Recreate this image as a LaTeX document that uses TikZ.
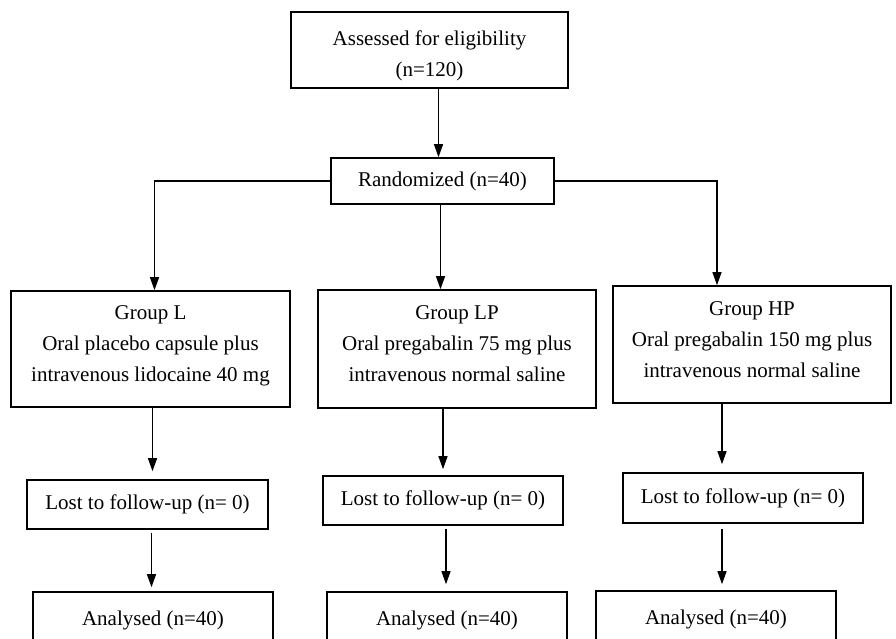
\documentclass[tikz,border=0pt]{standalone}
\usepackage{fontspec}
\setmainfont{Liberation Serif}
\usetikzlibrary{arrows.meta}

\tikzset{
    flowbox/.style={
        draw,
        line width=1.6pt,
        align=center,
        inner sep=2pt,
        font=\fontsize{21}{31}\selectfont
    },
    flowarrow/.style={
        line width=1.2pt,
        -{Stealth[length=13pt,width=9pt,inset=0pt]}
    }
}

\begin{document}
\begin{tikzpicture}[
    x=1pt,
    y=-1pt
]

\useasboundingbox (0,0) rectangle (896,638);
\clip (0,0) rectangle (896,638);

%------------------------------------------------------------
% Top boxes
%------------------------------------------------------------

\node[flowbox,minimum width=277pt,minimum height=76pt]
(assess) at (429.5,50)
{\rule{0pt}{26pt}Assessed for eligibility\\(n=120)};

\node[flowbox,minimum width=223pt,minimum height=46pt]
(rand) at (442.5,181)
{Randomized (n=40)};

%------------------------------------------------------------
% Groups
%------------------------------------------------------------

\node[flowbox,minimum width=279pt,minimum height=116pt]
(gL) at (150.5,349)
{Group L\\Oral placebo capsule plus\\intravenous lidocaine 40 mg\rule[-10pt]{0pt}{0pt}};

\node[flowbox,minimum width=278pt,minimum height=118pt]
(gLP) at (457,349)
{Group LP\\Oral pregabalin 75 mg plus\\intravenous normal saline\rule[-10pt]{0pt}{0pt}};

\node[flowbox,minimum width=278pt,minimum height=117pt]
(gHP) at (752,344.5)
{Group HP\\Oral pregabalin 150 mg plus\\intravenous normal saline\rule[-10pt]{0pt}{0pt}};

%------------------------------------------------------------
% Follow-up
%------------------------------------------------------------

\node[flowbox,minimum width=241pt,minimum height=49pt]
(lostL) at (147.5,504.5)
{Lost to follow-up (n= 0)};

\node[flowbox,minimum width=240pt,minimum height=49pt]
(lostLP) at (443,500.5)
{Lost to follow-up (n= 0)};

\node[flowbox,minimum width=240pt,minimum height=50pt]
(lostHP) at (743,498)
{Lost to follow-up (n= 0)};

%------------------------------------------------------------
% Analysis
%------------------------------------------------------------

\node[flowbox,minimum width=240pt,minimum height=56pt]
(anL) at (153,620)
{Analysed (n=40)};

\node[flowbox,minimum width=240pt,minimum height=56pt]
(anLP) at (447,620)
{Analysed (n=40)};

\node[flowbox,minimum width=240pt,minimum height=56pt]
(anHP) at (716,619)
{Analysed (n=40)};

%------------------------------------------------------------
% Arrows
%------------------------------------------------------------

\draw[flowarrow]
([xshift=-4pt]assess.south -| rand.north)--([xshift=-4pt]rand.north);

% randomisation into the three groups
\draw[flowarrow]
(rand.west) -| ([xshift=4pt]gL.north);

\draw[flowarrow]
([xshift=-2pt]rand.south) -- ([xshift=-2pt]rand.south |- gLP.north);

\draw[flowarrow]
(rand.east) -| ([xshift=-35pt]gHP.north);

% groups to follow-up
\draw[flowarrow,shorten >=8pt]
([xshift=2pt]gL.south) -- ([xshift=2pt]gL.south |- lostL.north);

\draw[flowarrow,shorten >=6pt]
(gLP.south -| lostLP.north) -- (lostLP.north);

\draw[flowarrow,shorten >=8pt]
([xshift=-21pt]lostHP.north |- gHP.south) -- ([xshift=-21pt]lostHP.north);

% follow-up to analysis
\draw[flowarrow,shorten <=3pt,shorten >=4pt]
([xshift=4pt]lostL.south) -- ([xshift=4pt]lostL.south |- anL.north);

\draw[flowarrow,shorten <=3pt,shorten >=7pt]
([xshift=3pt]lostLP.south) -- ([xshift=3pt]lostLP.south |- anLP.north);

\draw[flowarrow,shorten <=5pt,shorten >=6pt]
([xshift=-21pt]lostHP.south) -- ([xshift=-21pt]lostHP.south |- anHP.north);

\end{tikzpicture}
\end{document}
